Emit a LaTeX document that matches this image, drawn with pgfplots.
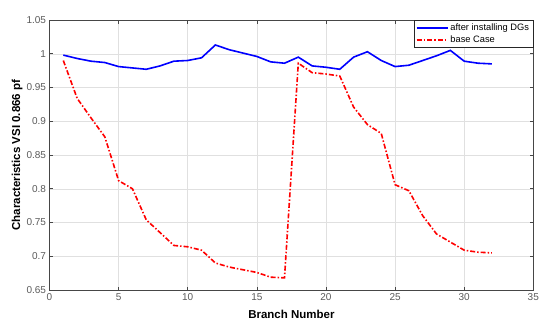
\documentclass[border=0pt]{standalone}
\usepackage{fontspec}
\setmainfont{Liberation Sans}
\usepackage{pgfplots}
\pgfplotsset{compat=1.18}
\definecolor{axgray}{RGB}{70,70,70}
\definecolor{tickgray}{RGB}{90,90,90}
\begin{document}
\begin{tikzpicture}[x=1pt,y=1pt]
\begin{axis}[
  at={(49.5pt,40pt)}, anchor=south west,
  scale only axis, width=483.8pt, height=270pt,
  xmin=0, xmax=35, ymin=0.65, ymax=1.05,
  xtick={0,5,...,35},
  ytick={0.65,0.7,0.75,0.8,0.85,0.9,0.95,1,1.05},
  yticklabels={0.65,0.7,0.75,0.8,0.85,0.9,0.95,1,1.05},
  tick align=inside, major tick length=3.5pt,
  tick style={axgray, line width=0.6pt},
  axis line style={axgray, line width=0.8pt},
  grid=major, major grid style={black!12, line width=0.5pt},
  ticklabel style={font=\fontsize{10}{12}\selectfont, text=tickgray},
  /pgf/number format/assume math mode=true,
  xlabel={\textbf{Branch Number}},
  ylabel={\textbf{Characteristics VSI 0.866 pf}},
  xlabel style={font=\fontsize{11.5}{13}\selectfont, at={(axis description cs:0.5,-0.0)}, anchor=north, yshift=-17pt},
  ylabel style={font=\fontsize{11.5}{13}\selectfont},
  every axis y label/.append style={at={(axis description cs:-0.067,0.5)}, anchor=center, rotate=0},
  legend style={at={(rel axis cs:1,1)}, anchor=north east, draw=black!85, line width=0.6pt,
    font=\fontsize{9.3}{11}\selectfont, inner xsep=2pt, inner ysep=1.5pt, row sep=0pt,
    legend cell align=left, cells={anchor=west}},
  legend image code/.code={\draw[#1] (0pt,0pt) -- (31pt,0pt);},
]
\addplot[blue, line width=1.6pt] coordinates {
(1,0.998) (2,0.993) (3,0.989) (4,0.987) (5,0.981) (6,0.979) (7,0.977) (8,0.982)
(9,0.989) (10,0.990) (11,0.994) (12,1.013) (13,1.006) (14,1.001) (15,0.996) (16,0.988)
(17,0.986) (18,0.995) (19,0.982) (20,0.980) (21,0.977) (22,0.995) (23,1.003) (24,0.990)
(25,0.981) (26,0.983) (27,0.990) (28,0.997) (29,1.005) (30,0.989) (31,0.986) (32,0.985)
};
\addlegendentry{after installing DGs}
\addplot[red, line width=1.6pt, dash pattern=on 5pt off 2pt on 1.5pt off 2pt] coordinates {
(1,0.990) (2,0.934) (3,0.905) (4,0.877) (5,0.812) (6,0.800) (7,0.754) (8,0.735)
(9,0.716) (10,0.714) (11,0.709) (12,0.690) (13,0.684) (14,0.680) (15,0.676) (16,0.669)
(17,0.668) (18,0.986) (19,0.972) (20,0.970) (21,0.967) (22,0.921) (23,0.895) (24,0.882)
(25,0.806) (26,0.797) (27,0.760) (28,0.733) (29,0.721) (30,0.709) (31,0.706) (32,0.705)
};
\addlegendentry{base Case}
\end{axis}
\pgfresetboundingbox
\path (0,0) rectangle (550,330);
\end{tikzpicture}
\end{document}
